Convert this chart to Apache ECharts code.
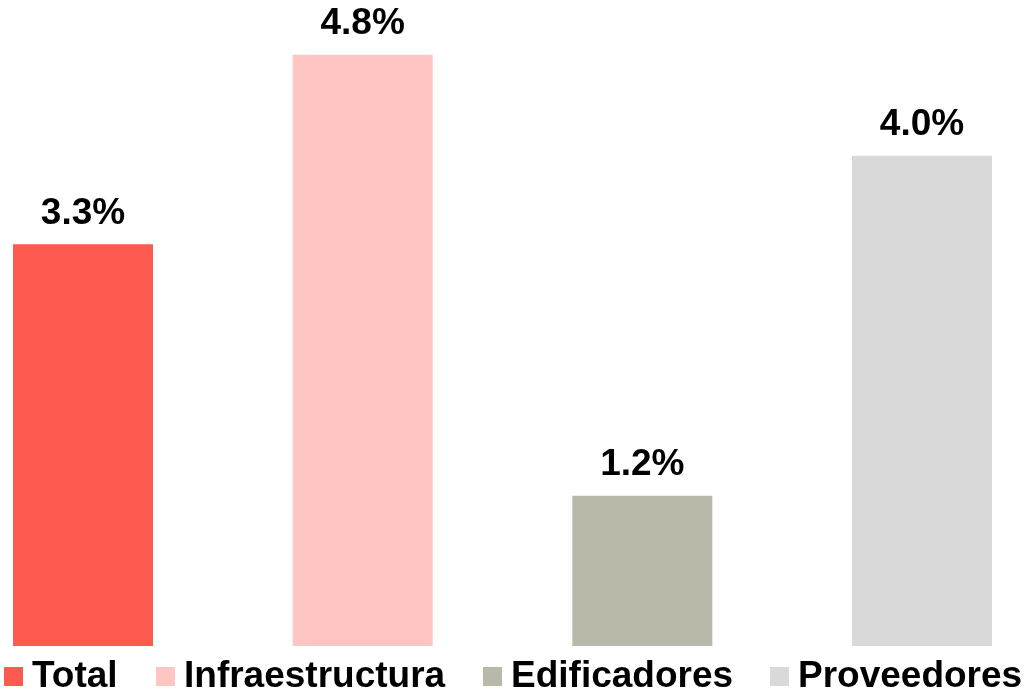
<!DOCTYPE html>
<html>
<head>
<meta charset="utf-8">
<style>
html,body{margin:0;padding:0;background:#fff;}
#chart{width:1025px;height:693px;}
</style>
<script src="https://cdn.jsdelivr.net/npm/echarts@6/dist/echarts.min.js"></script>
</head>
<body>
<div id="chart"></div>
<script>
const categories = ['Total', 'Infraestructura', 'Edificadores', 'Proveedores'];
const values = [3.26, 4.8, 1.22, 3.98];
const colors = ['#FF5A4F', '#FFC5C3', '#B8B9A9', '#D9D9D9'];
const legendLefts = [4, 156, 483, 770];

const chart = echarts.init(document.getElementById('chart'));
const font = '"Liberation Sans", Arial, sans-serif';

const series = categories.map((name, i) => ({
  name: name,
  type: 'bar',
  barWidth: 140,
  barGap: '-100%',
  itemStyle: { color: colors[i] },
  data: categories.map((c, j) => (j === i ? values[i] : '-')),
  label: {
    show: true,
    position: 'top',
    distance: 12,
    fontSize: 37,
    fontWeight: 'bold',
    fontFamily: font,
    color: '#000',
    formatter: p => p.value.toFixed(1) + '%'
  }
}));

const legends = categories.map((name, i) => ({
  data: [name],
  left: legendLefts[i],
  top: 658,
  padding: 0,
  itemWidth: 19,
  itemHeight: 19,
  icon: 'rect',
  textStyle: {
    fontSize: 37,
    fontWeight: 'bold',
    fontFamily: font,
    color: '#000',
    padding: [0, 0, 0, 4]
  }
}));

chart.setOption({
  animation: false,
  backgroundColor: '#fff',
  legend: legends,
  grid: { left: 83, right: 103, top: 30, bottom: 47 },
  xAxis: {
    type: 'category',
    data: categories,
    boundaryGap: false,
    show: false
  },
  yAxis: {
    type: 'value',
    min: 0,
    max: 5,
    show: false
  },
  series: series
});
</script>
</body>
</html>
